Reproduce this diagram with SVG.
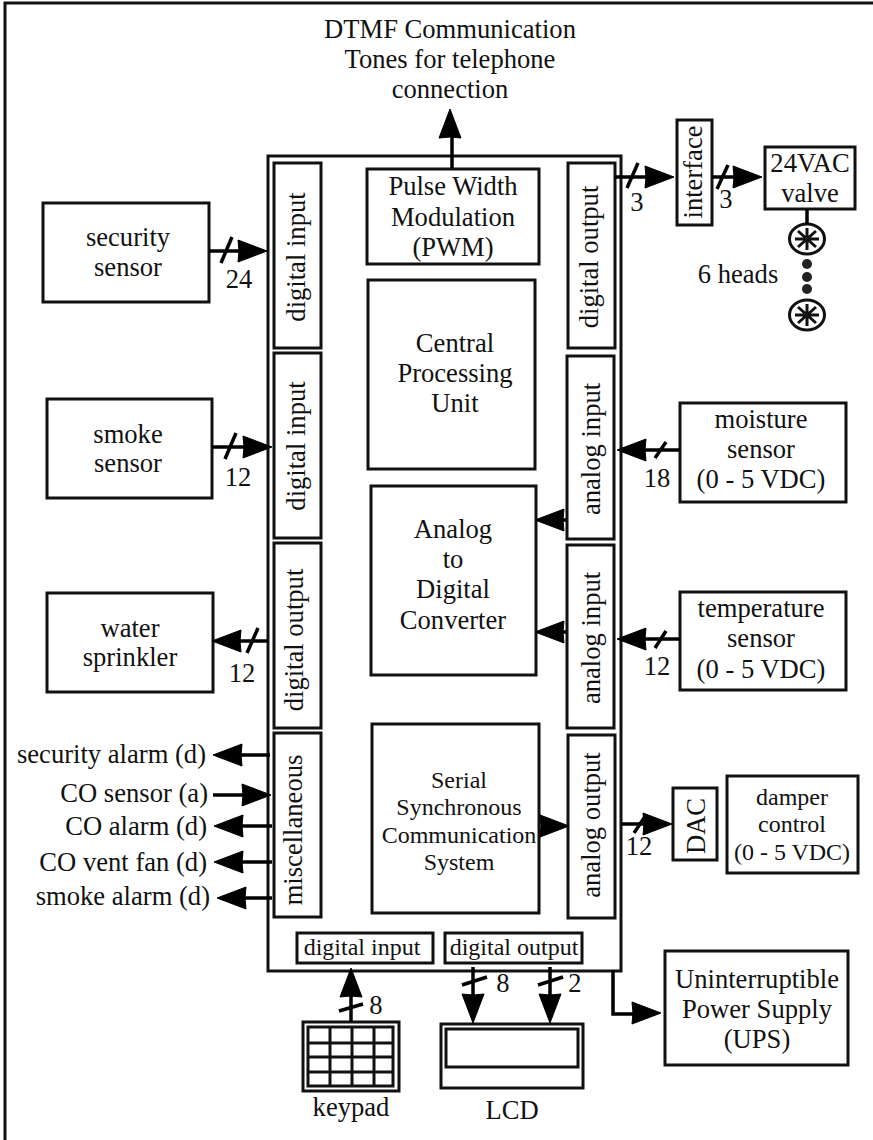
<svg xmlns="http://www.w3.org/2000/svg" width="873" height="1140" viewBox="0 0 873 1140">
<style>
text{font-family:"Liberation Serif","Times New Roman",serif;font-size:26.6px;fill:#111;text-anchor:middle}
.e{text-anchor:end}
.s{font-size:24px}
.b{fill:#fff;stroke:#111;stroke-width:3}
.l{fill:none;stroke:#111;stroke-width:3}
#connectors .l{stroke-width:3.5;stroke:#000}
.a{fill:#000;stroke:#000;stroke-width:1;stroke-linejoin:miter}
</style>
<defs>
<polygon id="ah" class="a" points="-1,0 -30,-11 -29,0 -30,11"/>
<g id="head"><ellipse cx="0" cy="0" rx="17.5" ry="15" class="l"/><path class="l" d="M0,-11V11M-12,0H12M-9,-8L9,8M-9,8L9,-8"/></g>
</defs>
<rect x="5" y="3" width="880" height="1150" class="l"/>
<g id="main"><rect x="268" y="156" width="353" height="815" class="b"/></g>
<g id="dtmf"><text x="450" y="38">DTMF Communication</text><text x="450" y="68">Tones for telephone</text><text x="450" y="98">connection</text></g>
<g id="di1"><rect x="274" y="163" width="47" height="185" class="b"/><text transform="translate(305,257) rotate(-90)">digital input</text></g>
<g id="di2"><rect x="274" y="353" width="47" height="185" class="b"/><text transform="translate(305,446) rotate(-90)">digital input</text></g>
<g id="do1"><rect x="274" y="543" width="47" height="185" class="b"/><text transform="translate(303,640) rotate(-90)">digital output</text></g>
<g id="misc"><rect x="274" y="733" width="47" height="184" class="b"/><text transform="translate(302,830) rotate(-90)">miscellaneous</text></g>
<g id="do2"><rect x="568" y="163" width="47" height="185" class="b"/><text transform="translate(598,257) rotate(-90)">digital output</text></g>
<g id="ai1"><rect x="567" y="356" width="47" height="183" class="b"/><text transform="translate(600,449) rotate(-90)">analog input</text></g>
<g id="ai2"><rect x="567" y="545" width="47" height="183" class="b"/><text transform="translate(600,638) rotate(-90)">analog input</text></g>
<g id="ao"><rect x="568" y="735" width="47" height="183" class="b"/><text transform="translate(600,825) rotate(-90)">analog output</text></g>
<g id="pwm"><rect x="367" y="169" width="172" height="95" class="b"/><text x="453" y="195">Pulse Width</text><text x="453" y="226">Modulation</text><text x="453" y="256">(PWM)</text></g>
<g id="cpu"><rect x="368" y="280" width="167" height="189" class="b"/><text x="455" y="352">Central</text><text x="455" y="382">Processing</text><text x="455" y="412">Unit</text></g>
<g id="adc"><rect x="371" y="486" width="165" height="189" class="b"/><text x="453" y="538">Analog</text><text x="453" y="568">to</text><text x="453" y="598">Digital</text><text x="453" y="629">Converter</text></g>
<g id="ssc"><rect x="372" y="724" width="167" height="189" class="b"/><text x="459" y="788" class="s">Serial</text><text x="459" y="815" class="s">Synchronous</text><text x="459" y="843" class="s">Communication</text><text x="459" y="870" class="s">System</text></g>
<g id="security"><rect x="43" y="203" width="166" height="99" class="b"/><text x="128" y="246">security</text><text x="128" y="276">sensor</text></g>
<g id="smoke"><rect x="47" y="399" width="165" height="99" class="b"/><text x="128" y="443">smoke</text><text x="128" y="472">sensor</text></g>
<g id="water"><rect x="47" y="593" width="166" height="99" class="b"/><text x="130" y="637">water</text><text x="130" y="666">sprinkler</text></g>
<g id="interface"><rect x="677" y="120" width="35" height="105" class="b"/><text transform="translate(702,172) rotate(-90)">interface</text></g>
<g id="valve"><rect x="765" y="147" width="90" height="62" class="b"/><text x="810" y="172">24VAC</text><text x="810" y="202">valve</text></g>
<g id="heads"><use href="#head" transform="translate(807,239)"/><use href="#head" transform="translate(807,315)"/><circle cx="807" cy="264" r="5" fill="#222"/><circle cx="807" cy="277" r="5" fill="#222"/><circle cx="807" cy="289" r="5" fill="#222"/><text x="738" y="283">6 heads</text></g>
<g id="moisture"><rect x="680" y="403" width="166" height="99" class="b"/><text x="761" y="428">moisture</text><text x="761" y="458">sensor</text><text x="761" y="488">(0 - 5 VDC)</text></g>
<g id="temperature"><rect x="680" y="592" width="166" height="98" class="b"/><text x="761" y="617">temperature</text><text x="761" y="647">sensor</text><text x="761" y="678">(0 - 5 VDC)</text></g>
<g id="dac"><rect x="673" y="788" width="44" height="72" class="b"/><text transform="translate(705,826) rotate(-90)">DAC</text></g>
<g id="damper"><rect x="727" y="776" width="131" height="97" class="b"/><text x="792" y="805" class="s">damper</text><text x="792" y="832" class="s">control</text><text x="792" y="860" class="s">(0 - 5 VDC)</text></g>
<g id="bdi"><rect x="297" y="933" width="136" height="30" class="b"/><text x="362" y="955" class="s">digital input</text></g>
<g id="bdo"><rect x="445" y="933" width="137" height="30" class="b"/><text x="514" y="955" class="s">digital output</text></g>
<g id="ups"><rect x="665" y="951" width="183" height="114" class="b"/><text x="757" y="988">Uninterruptible</text><text x="757" y="1018">Power Supply</text><text x="757" y="1048">(UPS)</text></g>
<g id="keypad"><rect x="303" y="1022" width="96" height="69" class="b"/><rect x="308" y="1027" width="85" height="59" class="b"/><path class="l" d="M308,1043H393M308,1057H393M308,1072H393M330,1027V1086M352,1027V1086M374,1027V1086"/><text x="351" y="1116">keypad</text></g>
<g id="lcd"><rect x="441" y="1024" width="142" height="64" class="b"/><rect x="446" y="1029" width="132" height="38" class="b"/><text x="512" y="1119">LCD</text></g>
<g id="connectors">
<path class="l" d="M452,168V130"/><use href="#ah" transform="translate(450,108) rotate(-90)"/>
<path class="l" d="M209,251H242"/><use href="#ah" transform="translate(268,251)"/><path class="l" d="M221,263L232,237"/>
<path class="l" d="M212,447H246"/><use href="#ah" transform="translate(273,447)"/><path class="l" d="M225,459L236,433"/>
<path class="l" d="M268,641H238"/><use href="#ah" transform="translate(211,641) rotate(180)"/><path class="l" d="M247,653L258,628"/>
<path class="l" d="M270,755H240"/><use href="#ah" transform="translate(212,755) rotate(180)"/>
<path class="l" d="M213,795H246"/><use href="#ah" transform="translate(272,795)"/>
<path class="l" d="M272,826H240"/><use href="#ah" transform="translate(213,826) rotate(180)"/>
<path class="l" d="M272,862H240"/><use href="#ah" transform="translate(213,862) rotate(180)"/>
<path class="l" d="M272,898H243"/><use href="#ah" transform="translate(216,898) rotate(180)"/>
<path class="l" d="M615,177H648"/><use href="#ah" transform="translate(675,177)"/><path class="l" d="M627,188L638,163"/>
<path class="l" d="M712,177H736"/><use href="#ah" transform="translate(763,177)"/><path class="l" d="M717,189L728,165"/>
<path class="l" d="M807,209V224"/>
<path class="l" d="M680,450H644"/><use href="#ah" transform="translate(616,450) rotate(180)"/><path class="l" d="M655,458L666,442"/>
<path class="l" d="M680,639H644"/><use href="#ah" transform="translate(616,639) rotate(180)"/><path class="l" d="M655,648L666,631"/>
<path class="l" d="M560,520H566"/><use href="#ah" transform="translate(534,520) rotate(180)"/>
<path class="l" d="M560,632H566"/><use href="#ah" transform="translate(534,632) rotate(180)"/>
<use href="#ah" transform="translate(570,826)"/>
<path class="l" d="M621,824H648"/><use href="#ah" transform="translate(673,824)"/><path class="l" d="M634,833L646,815"/>
<path class="l" d="M351,1022V995"/><use href="#ah" transform="translate(351,967) rotate(-90)"/><path class="l" d="M339,1011L363,1004"/>
<path class="l" d="M473,967V998"/><use href="#ah" transform="translate(473,1024) rotate(90)"/><path class="l" d="M462,985L487,977"/>
<path class="l" d="M550,967V998"/><use href="#ah" transform="translate(550,1024) rotate(90)"/><path class="l" d="M538,985L563,977"/>
<path class="l" d="M613,970V1014H635"/><use href="#ah" transform="translate(662,1013)"/>
</g>
<g id="labels"><text x="239" y="288">24</text><text x="238" y="486">12</text><text x="242" y="682">12</text>
<text x="206" y="763" class="e">security alarm (d)</text><text x="208" y="802" class="e">CO sensor (a)</text><text x="207" y="835" class="e">CO alarm (d)</text><text x="207" y="871" class="e">CO vent fan (d)</text><text x="210" y="905" class="e">smoke alarm (d)</text>
<text x="637" y="211">3</text><text x="726" y="208">3</text><text x="657" y="487">18</text><text x="657" y="675">12</text><text x="639" y="855">12</text>
<text x="376" y="1014">8</text><text x="503" y="992">8</text><text x="575" y="992">2</text></g>
</svg>
